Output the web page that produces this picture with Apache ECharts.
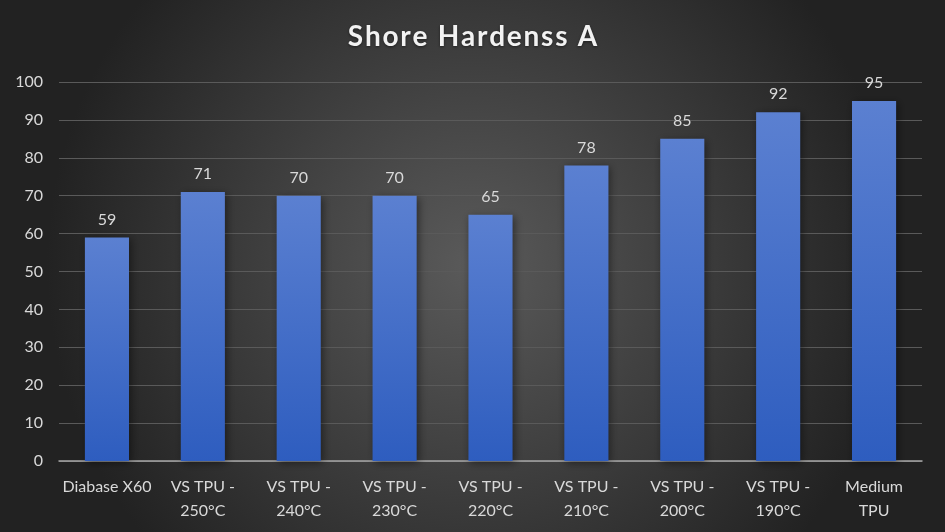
<!DOCTYPE html>
<html>
<head>
<meta charset="utf-8">
<script src="https://cdn.jsdelivr.net/npm/echarts@6/dist/echarts.min.js"></script>
<style>
  html, body { margin: 0; padding: 0; }
  #chart { width: 945px; height: 532px; }
</style>
</head>
<body>
<div id="chart"></div>
<script>
// Shore hardness per material.
const categories = [
  'Diabase X60', 'VS TPU -\n250°C', 'VS TPU -\n240°C', 'VS TPU -\n230°C', 'VS TPU -\n220°C',
  'VS TPU -\n210°C', 'VS TPU -\n200°C', 'VS TPU -\n190°C', 'Medium\nTPU',
];
const hardness = [59, 71, 70, 70, 65, 78, 85, 92, 95];
const titleText = 'Shore Hardenss A';

const FONT = 'Lato, "Open Sans", sans-serif';
const TEXT = '#d9d9d9';

const chart = echarts.init(document.getElementById('chart'), null, { renderer: 'canvas' });
chart.setOption({
  animation: false,
  backgroundColor: {
    type: 'radial', x: 0.5, y: 0.5, r: 0.8,
    colorStops: [
      { offset: 0, color: '#5a5a5a' },
      { offset: 1, color: '#222222' },
    ],
  },
  title: {
    // hair spaces between letters to mimic the spaced-out title
    text: titleText.split('').join('\u200a'),
    left: 'center', top: 18,
    textStyle: { color: '#f2f2f2', fontSize: 28, fontWeight: 'bold', fontFamily: FONT,
      textShadowColor: 'rgba(0,0,0,0.5)', textShadowBlur: 3, textShadowOffsetY: 1 },
  },
  grid: { left: 59, right: 23, top: 82, bottom: 71 },
  xAxis: {
    type: 'category', data: categories,
    axisLine: { lineStyle: { color: '#a6a6a6', width: 1.5 } },
    axisTick: { show: false },
    axisLabel: { color: TEXT, fontSize: 16, fontFamily: FONT, lineHeight: 24, margin: 14, interval: 0 },
  },
  yAxis: {
    type: 'value', min: 0, max: 100, interval: 10,
    axisLine: { show: false },
    axisTick: { show: false },
    axisLabel: { color: TEXT, fontSize: 16, fontFamily: FONT, margin: 16 },
    splitLine: { lineStyle: { color: '#5a5a5a', width: 1.2 } },
  },
  series: [{
    type: 'bar', data: hardness, barWidth: '46%',
    itemStyle: {
      color: {
        type: 'linear', x: 0, y: 0, x2: 0, y2: 1,
        colorStops: [
          { offset: 0, color: '#5b80d1' },
          { offset: 1, color: '#2e5dbf' },
        ],
      },
      shadowColor: 'rgba(0,0,0,0.45)', shadowBlur: 8, shadowOffsetX: 2, shadowOffsetY: 2,
    },
    label: { show: true, position: 'top', distance: 10, color: TEXT, fontSize: 16, fontFamily: FONT },
  }],
});
</script>
</body>
</html>
